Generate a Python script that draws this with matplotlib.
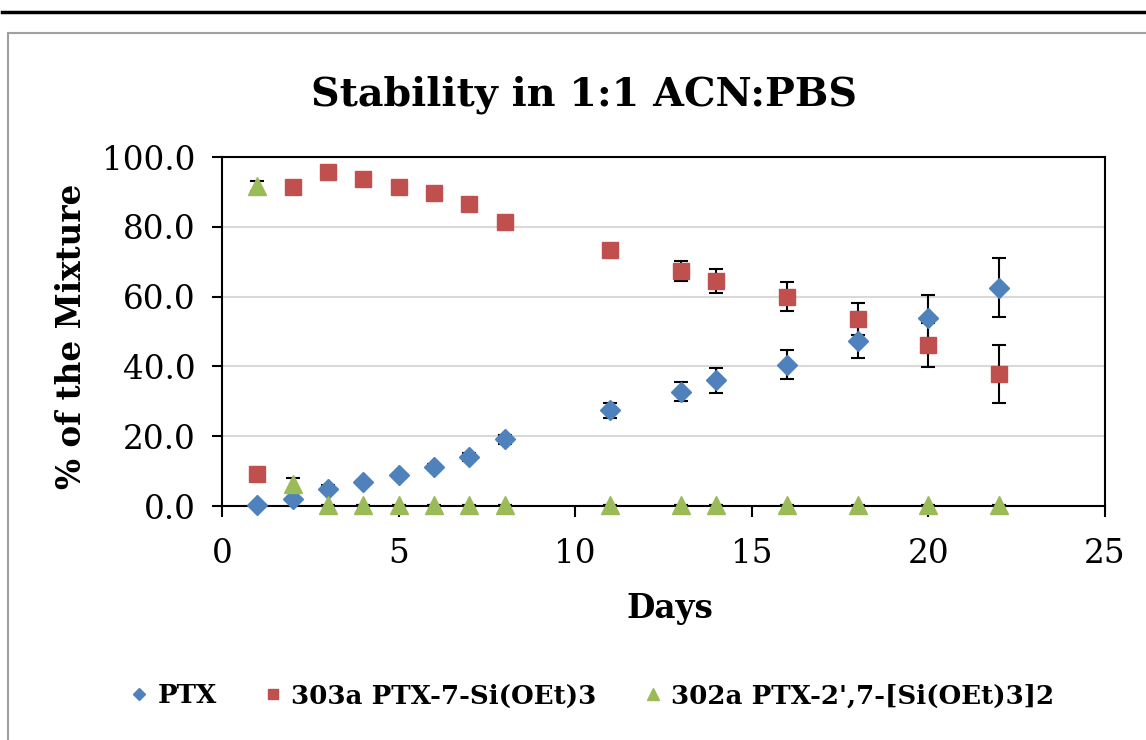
import matplotlib.pyplot as plt
from matplotlib.lines import Line2D
from matplotlib.patches import Rectangle

# data
days = [1, 2, 3, 4, 5, 6, 7, 8, 11, 13, 14, 16, 18, 20, 22]
ptx = [0.2, 2.0, 5.0, 6.8, 8.8, 11.1, 14.0, 19.1, 27.4, 32.8, 36.0, 40.5, 47.2, 54.0, 62.6]
ptx_err = [0.2, 0.5, 1.0, 0.6, 0.5, 0.8, 1.2, 1.2, 2.2, 2.8, 3.5, 4.2, 4.7, 6.6, 8.4]
s303 = [9.1, 91.5, 95.6, 93.6, 91.5, 89.6, 86.4, 81.3, 73.3, 67.4, 64.5, 60.0, 53.5, 46.2, 37.7]
s303_err = [0.5, 0.5, 0.5, 0.5, 0.5, 1.0, 1.0, 0.8, 0.8, 2.8, 3.4, 4.2, 4.6, 6.3, 8.3]
s302 = [91.6, 6.3, 0.2, 0.2, 0.2, 0.2, 0.2, 0.2, 0.2, 0.2, 0.2, 0.2, 0.2, 0.2, 0.2]
s302_err = [1.4, 1.8, 0, 0, 0, 0, 0, 0, 0, 0, 0, 0, 0, 0, 0]

labels = ["PTX", "303a PTX-7-Si(OEt)3", "302a PTX-2',7-[Si(OEt)3]2"]
colors = ["#4F81BD", "#C0504D", "#9BBB59"]
markers = ["D", "s", "^"]
sizes = [10, 12, 13]

plt.rcParams['font.family'] = ['DejaVu Serif']

fig = plt.figure(figsize=(11.46, 7.4), dpi=100)
# chart frame + rule line above it
fig.patches.append(Rectangle((0.007, -0.05), 1.1, 0.9554 + 0.05, transform=fig.transFigure,
                             fill=False, edgecolor="#a0a0a0", linewidth=1.5))
fig.lines.append(Line2D([0.002, 1.0], [0.9838, 0.9838], transform=fig.transFigure,
                        color="black", linewidth=2.5))

ax = fig.add_axes([0.1937, 0.3162, 0.9642 - 0.1937, 0.7878 - 0.3162])

series = [(ptx, ptx_err), (s303, s303_err), (s302, s302_err)]
for (vals, errs), lab, col, mk, ms in zip(series, labels, colors, markers, sizes):
    ax.errorbar(days, vals, yerr=errs, fmt=mk, color=col, markersize=ms,
                ecolor="black", elinewidth=1.5, capsize=5.3, capthick=1.5,
                label=lab, zorder=3, clip_on=False)

ax.set_xlim(0, 25)
ax.set_ylim(0, 100)
ax.set_xticks([0, 5, 10, 15, 20, 25])
ax.set_yticks([0, 20, 40, 60, 80, 100])
ax.set_yticklabels([f"{v:.1f}" for v in [0, 20, 40, 60, 80, 100]])
ax.tick_params(axis='y', direction='out', length=7, width=1.5, labelsize=23.5, pad=12)
ax.tick_params(axis='x', direction='out', length=8, width=1.5, labelsize=23.5, pad=15)
ax.grid(axis='y', color="#d9d9d9", linewidth=1.5, zorder=0)
ax.set_axisbelow(True)
for sp in ax.spines.values():
    sp.set_linewidth(1.5)

fig.text(0.51, 0.858, "Stability in 1:1 ACN:PBS", fontsize=28.5, fontweight='bold',
         ha='center', va='baseline')
fig.text(0.5846, 0.1649, "Days", fontsize=23.5, fontweight='bold', ha='center', va='baseline')
fig.text(0.0628, 0.5453, "% of the Mixture", fontsize=23.5, fontweight='bold',
         rotation=90, ha='center', va='center')

handles = [Line2D([], [], linestyle='none', marker=m, color=c, markersize=s * 0.65)
           for m, c, s in zip(markers, colors, sizes)]
fig.legend(handles, labels, loc='center', bbox_to_anchor=(0.516, 0.0595), ncol=3,
           frameon=False, prop={'size': 18.8, 'weight': 'bold'},
           handletextpad=0.3, columnspacing=1.75, handlelength=0.8)

fig.savefig("out.png", dpi=100)
